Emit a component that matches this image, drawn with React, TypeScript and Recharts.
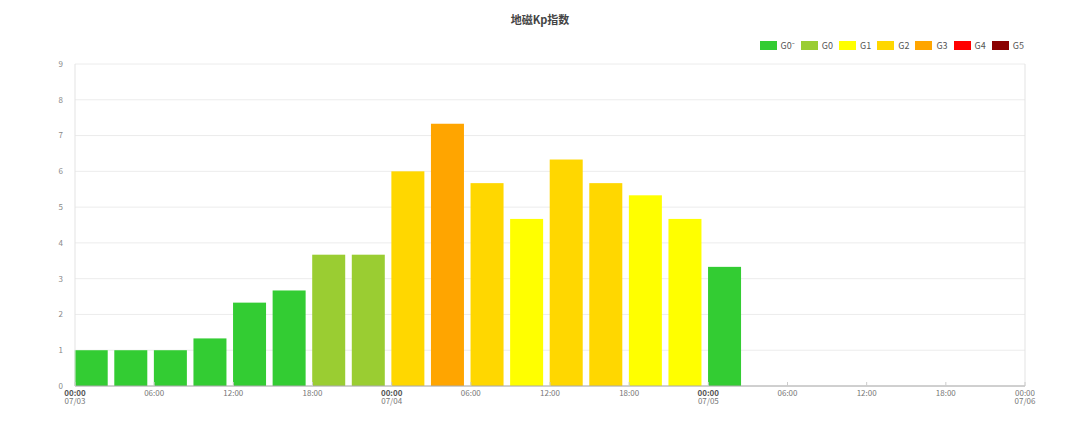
import React from "react";
import {
  BarChart,
  Bar,
  CartesianGrid,
  XAxis,
  YAxis,
  ReferenceLine,
} from "recharts";

// Kp 3小时值，07/03 00:00 起
const kpValues = [1, 1, 1, 1.33, 2.33, 2.67, 3.67, 3.67, 6, 7.33, 5.67, 4.67, 6.33, 5.67, 5.33, 4.67, 3.33];
const dayLabels = ["07/03", "07/04", "07/05", "07/06"];
const xTicks = [0, 6, 12, 18, 24, 30, 36, 42, 48, 54, 60, 66, 72];
const yTicks = [0, 1, 2, 3, 4, 5, 6, 7, 8, 9];

const levels = [
  { name: "G0⁻", color: "#33CC33", upTo: 3.5 },
  { name: "G0", color: "#9ACD32", upTo: 4.5 },
  { name: "G1", color: "#FFFF00", upTo: 5.5 },
  { name: "G2", color: "#FFD700", upTo: 6.5 },
  { name: "G3", color: "#FFA500", upTo: 7.5 },
  { name: "G4", color: "#FF0000", upTo: 8.5 },
  { name: "G5", color: "#8B0000", upTo: 99 },
];

const SLOT_HOURS = 3;
const data = kpValues.map((kp, i) => ({ t: i * SLOT_HOURS + SLOT_HOURS / 2, kp }));

const W = 1080;
const H = 427;
const M = { top: 64, right: 55, bottom: 11, left: 0 };
const Y_WIDTH = 75;
const BAR_W = 33;
const slotPx = (W - M.right - Y_WIDTH) / 24;
const FONT = '"Noto Sans CJK SC", "Noto Sans", sans-serif';

const colorFor = (kp: number) => levels.find((l) => kp < l.upTo)!.color;

const KpBar = (props: any) => {
  const { x, y, width, height, payload } = props;
  if (!height) return null;
  const shift = (slotPx - width) / 2;
  return <rect x={x - shift} y={y} width={width} height={height} fill={colorFor(payload.kp)} />;
};

const TimeTick = (props: any) => {
  const { x, y, payload } = props;
  const t: number = payload.value;
  const hh = String(t % 24).padStart(2, "0") + ":00";
  const dayStart = t % 24 === 0;
  return (
    <g>
      <line x1={x} x2={x} y1={y - 4} y2={y} stroke="#ccc" />
      <text
        x={x}
        y={y + 10}
        textAnchor="middle"
        fontSize={8}
        fill={dayStart && t < 72 ? "#555" : "#777"}
        fontWeight={dayStart && t < 72 ? "bold" : "normal"}
        fontFamily={FONT}
      >
        {hh}
      </text>
      {dayStart && (
        <text x={x} y={y + 18} textAnchor="middle" fontSize={8} fill="#777" fontFamily={FONT}>
          {dayLabels[t / 24]}
        </text>
      )}
    </g>
  );
};

export default function App() {
  return (
    <div style={{ position: "relative", width: W, height: H, fontFamily: FONT, background: "#fff" }}>
      <style>{"body{margin:0}"}</style>
      <div
        style={{
          position: "absolute",
          top: 11,
          left: 0,
          width: W,
          textAlign: "center",
          fontSize: 11,
          fontWeight: "bold",
          color: "#444",
        }}
      >
        地磁Kp指数
      </div>
      <div
        style={{
          position: "absolute",
          top: 39,
          right: 56,
          display: "flex",
          alignItems: "center",
          fontSize: 9,
          color: "#555",
        }}
      >
        {levels.map((l) => (
          <div key={l.name} style={{ display: "flex", alignItems: "center", marginLeft: 6 }}>
            <span style={{ display: "inline-block", width: 17, height: 9, background: l.color, marginRight: 4 }} />
            <span>{l.name}</span>
          </div>
        ))}
      </div>
      <BarChart width={W} height={H} data={data} margin={M}>
        <CartesianGrid vertical={false} stroke="#ececec" />
        <XAxis
          dataKey="t"
          type="number"
          domain={[0, 72]}
          ticks={xTicks}
          interval={0}
          height={30}
          axisLine={{ stroke: "#aaa" }}
          tickLine={false}
          tickSize={0}
          tickMargin={0}
          tick={<TimeTick />}
        />
        <YAxis
          domain={[0, 9]}
          ticks={yTicks}
          interval={0}
          width={Y_WIDTH}
          axisLine={{ stroke: "#e3e3e3" }}
          tickLine={false}
          tickMargin={6}
          tick={{ fontSize: 8, fill: "#888", fontFamily: FONT }}
        />
        <ReferenceLine x={72} stroke="#e3e3e3" />
        <Bar dataKey="kp" barSize={BAR_W} shape={<KpBar />} isAnimationActive={false} />
      </BarChart>
    </div>
  );
}
